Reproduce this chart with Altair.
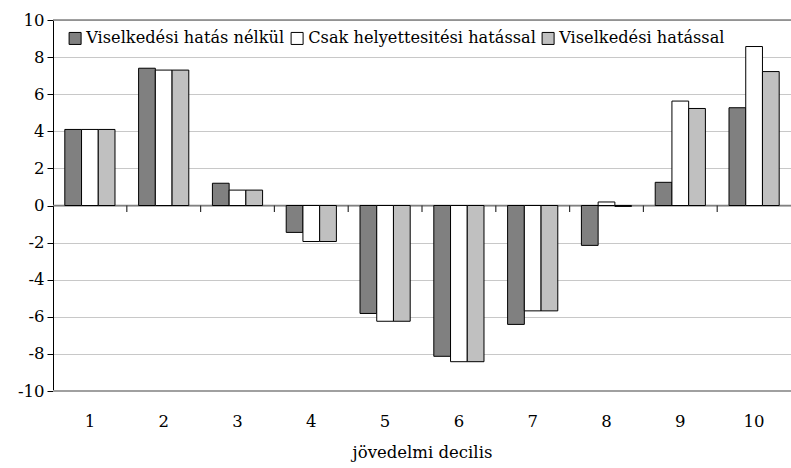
import altair as alt
import pandas as pd

deciles = [1, 2, 3, 4, 5, 6, 7, 8, 9, 10]
series = ["Viselkedési hatás nélkül", "Csak helyettesitési hatással", "Viselkedési hatással"]
s_nelkul = [4.1, 7.4, 1.2, -1.45, -5.82, -8.13, -6.41, -2.15, 1.25, 5.27]
s_helyett = [4.1, 7.3, 0.83, -1.94, -6.24, -8.42, -5.68, 0.19, 5.63, 8.57]
s_hatassal = [4.1, 7.3, 0.83, -1.94, -6.24, -8.42, -5.68, -0.05, 5.23, 7.22]
colors = ["#808080", "#ffffff", "#c0c0c0"]
y_ticks = [-10, -8, -6, -4, -2, 0, 2, 4, 6, 8, 10]

rows = []
for name, vals in zip(series, [s_nelkul, s_helyett, s_hatassal]):
    for d, v in zip(deciles, vals):
        rows.append({"decilis": d, "sorozat": name, "ertek": v})
df = pd.DataFrame(rows)

FONT = "DejaVu Serif"
FS = 16.5

xscale = alt.Scale(paddingInner=0.32, paddingOuter=0.16)
yscale = alt.Scale(domain=[-10, 10], nice=False, zero=False)

xaxis = alt.Axis(title="jövedelmi decilis", labelAngle=0, domain=False, ticks=False,
                 labelPadding=22, titlePadding=15, labelFontSize=FS, titleFontSize=FS,
                 labelFont=FONT, titleFont=FONT, labelColor="black", titleColor="black",
                 titleFontWeight="normal")
yaxis = alt.Axis(title=None, values=y_ticks, grid=True, gridColor="#c8c8c8",
                 domainColor="black", tickColor="black", tickSize=6,
                 labelOverlap=False, labelExpr="datum.value + ''",
                 labelFontSize=FS, labelFont=FONT, labelColor="black", labelPadding=3)

ref_df = pd.DataFrame({"y": [10, -10, 0], "c": ["#808080", "#a0a0a0", "#808080"], "w": [1.5, 2, 1.5]})
refs = alt.Chart(ref_df).mark_rule().encode(
    y=alt.Y("y:Q", scale=yscale, axis=yaxis),
    color=alt.Color("c:N", scale=None),
    strokeWidth=alt.StrokeWidth("w:Q", scale=None),
)

bars = alt.Chart(df).mark_bar(stroke="black", strokeWidth=1).encode(
    x=alt.X("decilis:O", scale=xscale, axis=xaxis),
    xOffset=alt.XOffset("sorozat:N", sort=series, scale=alt.Scale(paddingInner=0, paddingOuter=0)),
    y=alt.Y("ertek:Q", scale=yscale, axis=yaxis),
    fill=alt.Fill("sorozat:N", sort=series, scale=alt.Scale(domain=series, range=colors),
                  legend=alt.Legend(title=None, orient="none", direction="horizontal",
                                    legendX=14, legendY=10, symbolType="square", symbolSize=144,
                                    symbolStrokeColor="black", symbolStrokeWidth=1,
                                    labelFont=FONT, labelFontSize=16.2, labelColor="black",
                                    labelOffset=3, columnPadding=4, labelLimit=400)),
)

tick_df = pd.DataFrame({"decilis": deciles[1:], "y0": [0] * 9, "y1": [-0.35] * 9})
ticks = alt.Chart(tick_df).mark_rule(color="#303030", strokeWidth=1.2, xOffset=-11.8).encode(
    x=alt.X("decilis:O", bandPosition=0, axis=xaxis),
    y=alt.Y("y0:Q", scale=yscale, axis=yaxis),
    y2="y1:Q",
)

chart = alt.layer(refs, bars, ticks).properties(
    width=738, height=371,
    autosize=alt.AutoSizeParams(type="none"),
    padding={"left": 53, "top": 20, "right": 0, "bottom": 77},
).configure_view(stroke=None).configure_axisY(labelOverlap=False).configure(background="white")

chart.save("out.html", embed_options={"renderer": "svg", "actions": False})
